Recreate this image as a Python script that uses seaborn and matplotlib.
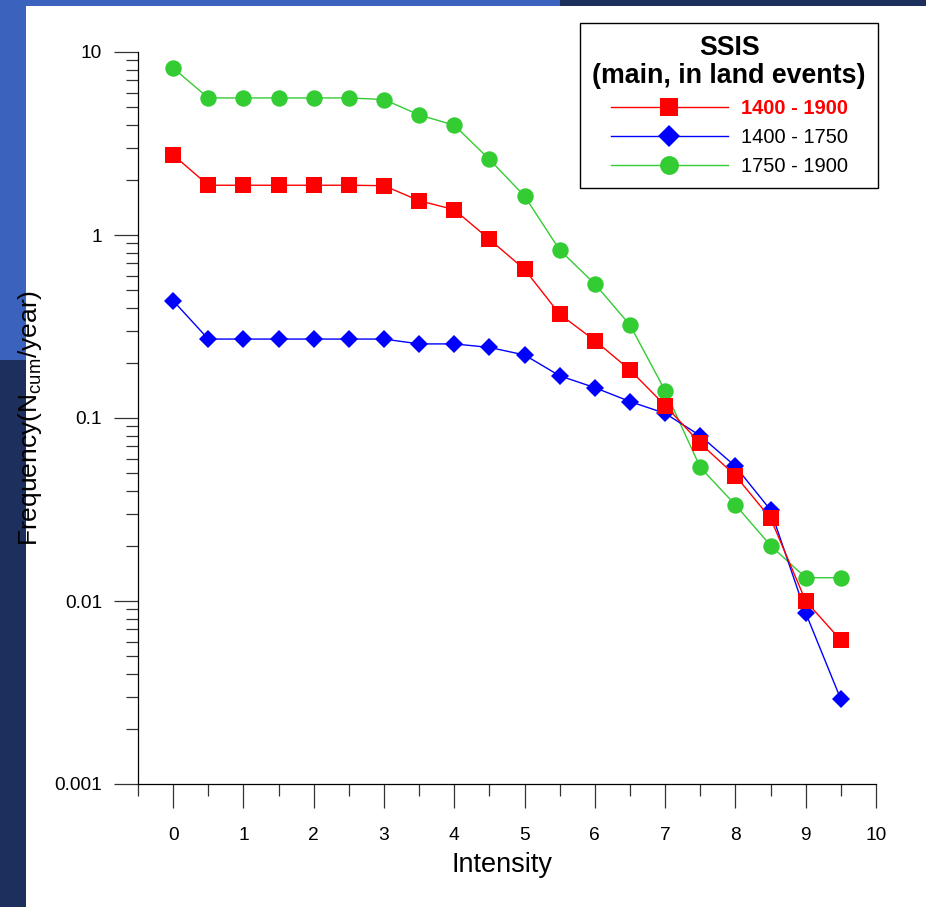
import numpy as np
import pandas as pd
import matplotlib
matplotlib.use('Agg')
import matplotlib.pyplot as plt
import seaborn as sns
from matplotlib.ticker import LogLocator, NullFormatter, MultipleLocator, FixedLocator, FixedFormatter
from matplotlib.patches import Rectangle

# ---------------- data ----------------
intensity = [0, 0.5, 1, 1.5, 2, 2.5, 3, 3.5, 4, 4.5, 5, 5.5, 6, 6.5, 7, 7.5, 8, 8.5, 9, 9.5]
freq_1400_1900 = [2.74, 1.87, 1.87, 1.87, 1.87, 1.87, 1.86, 1.54, 1.375, 0.947, 0.649, 0.369,
                  0.265, 0.183, 0.117, 0.0727, 0.0484, 0.0283, 0.0100, 0.0061]
freq_1400_1750 = [0.4375, 0.270, 0.270, 0.270, 0.270, 0.270, 0.270, 0.254, 0.254, 0.243, 0.221,
                  0.170, 0.1465, 0.123, 0.106, 0.080, 0.0544, 0.0314, 0.0086, 0.0029]
freq_1750_1900 = [8.18, 5.61, 5.61, 5.61, 5.61, 5.61, 5.5, 4.53, 3.98, 2.59, 1.63, 0.828,
                  0.540, 0.322, 0.141, 0.0537, 0.0335, 0.0201, 0.0134, 0.0134]
series_labels = ['1400 - 1900', '1400 - 1750', '1750 - 1900']
legend_title = 'SSIS\n(main, in land events)'
x_label = 'Intensity'
y_label = r'Frequency(N$_{\mathrm{cum}}$/year)'
y_tick_values = [0.001, 0.01, 0.1, 1, 10]
y_tick_labels = ['0.001', '0.01', '0.1', '1', '10']
x_tick_values = list(range(0, 11))

# ---------------- style ----------------
plt.rcParams['font.family'] = ['Liberation Sans', 'DejaVu Sans']
plt.rcParams['mathtext.fontset'] = 'custom'
plt.rcParams['mathtext.rm'] = 'Liberation Sans'
plt.rcParams['mathtext.it'] = 'Liberation Sans:italic'
plt.rcParams['mathtext.bf'] = 'Liberation Sans:bold'

W, H = 926, 907
fig = plt.figure(figsize=(W / 100, H / 100), dpi=100)
fig.patch.set_facecolor('#1d2f5d')

# decorative background (blue textured frame approximated)
fig.patches.append(Rectangle((0, 1 - 360 / H), 26 / W, 360 / H, transform=fig.transFigure,
                             facecolor='#3b62bd', edgecolor='none', zorder=0))
fig.patches.append(Rectangle((0, 1 - 6 / H), 560 / W, 6 / H, transform=fig.transFigure,
                             facecolor='#3b62bd', edgecolor='none', zorder=0))
fig.patches.append(Rectangle((26 / W, 0), 1 - 26 / W, 1 - 6 / H, transform=fig.transFigure,
                             facecolor='white', edgecolor='none', zorder=1))

ax = fig.add_axes([138 / W, 1 - 784 / H, 738 / W, 732 / H])
ax.set_facecolor('none')
ax.set_zorder(2)

df = pd.DataFrame({
    'Intensity': intensity * 3,
    'Frequency': freq_1400_1900 + freq_1400_1750 + freq_1750_1900,
    'Series': [series_labels[0]] * len(intensity) + [series_labels[1]] * len(intensity)
              + [series_labels[2]] * len(intensity),
})

styles = {
    series_labels[2]: dict(color='#33cc33', marker='o', markersize=11.8, z=3),
    series_labels[1]: dict(color='#0000ff', marker='D', markersize=9.4, z=4),
    series_labels[0]: dict(color='#ff0000', marker='s', markersize=11.3, z=5),
}
for name in [series_labels[2], series_labels[1], series_labels[0]]:
    st = styles[name]
    sub = df[df['Series'] == name]
    sns.lineplot(data=sub, x='Intensity', y='Frequency', ax=ax, color=st['color'],
                 marker=st['marker'], markersize=st['markersize'], markeredgewidth=0,
                 linewidth=1.0, label=name, zorder=st['z'], errorbar=None)

ax.set_yscale('log')
ax.set_xlim(-0.5, 10)
ax.set_ylim(0.001, 10)

ax.yaxis.set_major_locator(FixedLocator(y_tick_values))
ax.yaxis.set_major_formatter(FixedFormatter(y_tick_labels))
ax.yaxis.set_minor_locator(LogLocator(base=10, subs=range(2, 10)))
ax.yaxis.set_minor_formatter(NullFormatter())
ax.xaxis.set_major_locator(FixedLocator(x_tick_values))
ax.xaxis.set_minor_locator(MultipleLocator(0.5))

for s in ['top', 'right']:
    ax.spines[s].set_visible(False)
for s in ['left', 'bottom']:
    ax.spines[s].set_linewidth(0.9)
    ax.spines[s].set_color('black')

ax.tick_params(which='major', direction='out', length=17, width=0.9, color='#333333',
               labelsize=13.8)
ax.tick_params(axis='y', which='major', pad=9)
ax.tick_params(axis='x', which='major', pad=14)
ax.tick_params(which='minor', direction='out', length=8.6, width=0.9, color='#333333')

ax.set_xlabel(x_label, fontsize=19.5)
ax.set_ylabel(y_label, fontsize=19)
ax.xaxis.set_label_coords((502 - 138) / 738, (784 - 852) / 732)
ax.yaxis.set_label_coords((44 - 138) / 738, 0.5)

handles, labels = ax.get_legend_handles_labels()
order = [labels.index(n) for n in series_labels]
leg = ax.legend([handles[i] for i in order], [labels[i] for i in order], title=legend_title,
                loc='upper right', bbox_to_anchor=(878 / W, 1 - 23 / H),
                bbox_transform=fig.transFigure, borderaxespad=0, frameon=True, fancybox=False,
                shadow=False, fontsize=14.5,
                title_fontproperties={'weight': 'bold', 'size': 19.3},
                handlelength=5.8, handletextpad=0.65, labelspacing=0.5, borderpad=0.6,
                markerscale=1.15, edgecolor='black', framealpha=1)
leg.get_frame().set_linewidth(1.0)
leg.get_title().set_multialignment('center')
leg.get_title().set_linespacing(1.1)
leg.get_texts()[0].set_color('#ff0000')
leg.get_texts()[0].set_fontweight('bold')

fig.savefig('out.png', dpi=100, facecolor=fig.get_facecolor())
